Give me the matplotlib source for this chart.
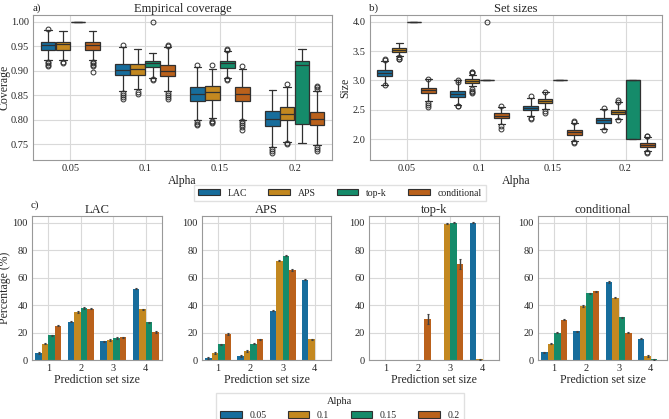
import colorsys
import numpy as np
import matplotlib
matplotlib.use('Agg')
import matplotlib.pyplot as plt
from matplotlib.patches import Patch
import seaborn as sns

alphas = ['0.05', '0.1', '0.15', '0.2']
methods = ['LAC', 'APS', 'top-k', 'conditional']
set_sizes = ['1', '2', '3', '4']

# a) coverage boxes, one row per alpha: (whislo, q1, med, q3, whishi, fliers)
cov_lac = [(0.922, 0.943, 0.953, 0.958, 0.983, [0.985, 0.918, 0.915, 0.912, 0.910]),
           (0.858, 0.890, 0.901, 0.914, 0.948, [0.952, 0.855, 0.850, 0.846, 0.843]),
           (0.799, 0.838, 0.852, 0.867, 0.907, [0.912, 0.796, 0.792, 0.789]),
           (0.744, 0.786, 0.801, 0.818, 0.860, [0.740, 0.736, 0.731])]
cov_aps = [(0.922, 0.943, 0.954, 0.958, 0.981, [0.918, 0.915]),
           (0.862, 0.892, 0.903, 0.914, 0.945, [0.857, 0.853]),
           (0.804, 0.841, 0.857, 0.869, 0.903, [0.911, 0.797, 0.795, 0.793]),
           (0.755, 0.799, 0.811, 0.826, 0.866, [0.873, 0.752, 0.750])]
cov_topk = [(1.0, 1.0, 1.0, 1.0, 1.0, []),
            (0.885, 0.907, 0.915, 0.919, 0.936, [0.883, 0.880, 1.0]),
            (0.885, 0.905, 0.915, 0.919, 0.941, [0.945, 0.942, 0.882, 0.880]),
            (0.753, 0.790, 0.912, 0.920, 0.945, [])]
cov_cond = [(0.922, 0.943, 0.953, 0.958, 0.981, [0.918, 0.915, 0.912, 0.910, 0.898]),
            (0.859, 0.889, 0.900, 0.912, 0.948, [0.952, 0.950, 0.855, 0.851, 0.846, 0.843]),
            (0.800, 0.838, 0.852, 0.866, 0.903, [0.909, 0.797, 0.793, 0.789, 0.785, 0.779]),
            (0.748, 0.788, 0.801, 0.816, 0.858, [0.862, 0.866, 0.869, 0.745, 0.740, 0.736])]

# b) set size boxes
size_lac = [(2.93, 3.077, 3.134, 3.18, 3.33, [3.35, 3.36, 2.92]),
            (2.59, 2.724, 2.77, 2.826, 3.0, [3.0, 2.98, 2.57, 2.56]),
            (2.40, 2.50, 2.54, 2.57, 2.71, [2.73, 2.36, 2.35]),
            (2.17, 2.285, 2.33, 2.37, 2.51, [2.53, 2.16])]
size_aps = [(3.41, 3.48, 3.516, 3.55, 3.635, [3.39, 3.37, 3.36]),
            (2.91, 2.95, 2.99, 3.02, 3.10, [3.12, 3.14, 3.15, 2.85, 2.82, 2.80, 2.78]),
            (2.51, 2.61, 2.655, 2.69, 2.80, [2.80, 2.48, 2.45]),
            (2.34, 2.43, 2.47, 2.50, 2.63, [2.64, 2.66, 2.33])]
size_topk = [(4.0, 4.0, 4.0, 4.0, 4.0, []),
             (3.0, 3.0, 3.0, 3.0, 3.0, [4.0]),
             (3.0, 3.0, 3.0, 3.0, 3.0, []),
             (2.0, 2.0, 3.0, 3.0, 3.0, [])]
size_cond = [(2.655, 2.78, 2.84, 2.87, 3.02, [3.03, 2.62, 2.58, 2.55]),
             (2.256, 2.36, 2.40, 2.44, 2.55, [2.56, 2.22, 2.18]),
             (1.97, 2.075, 2.12, 2.155, 2.285, [2.29, 2.31, 1.95, 1.93]),
             (1.80, 1.875, 1.91, 1.94, 2.04, [2.05, 2.06, 1.78, 1.76])]

# c) percentage of prediction set sizes, rows = alpha, columns = set size 1..4
pct_lac = [[5, 28, 13.5, 52], [12, 35, 14.5, 37], [18, 38, 16, 27.5], [25, 37.5, 16.5, 20.5]]
pct_aps = [[1.5, 3, 36, 58.5], [5, 6.5, 72.5, 15], [11.5, 12, 76, 0], [19, 15, 65.5, 0]]
pct_topk = [[0, 0, 0, 100], [0, 0, 99.5, 0.5], [0, 0, 100, 0], [0, 30, 70, 0]]
pct_cond = [[5.5, 21, 57, 15.5], [12, 39.5, 45.5, 3], [20, 48.5, 31, 0.5], [29.5, 50, 20, 0]]
err_topk = [[0, 0, 0, 0.3], [0, 0, 0.5, 0.5], [0, 0, 0.3, 0], [0, 3.5, 3.5, 0]]

sns.set_style('whitegrid')
plt.rcParams['font.family'] = ['Liberation Serif', 'DejaVu Serif']
plt.rcParams['axes.edgecolor'] = '.6'
plt.rcParams['grid.color'] = '.85'
plt.rcParams['xtick.major.size'] = 1.5
plt.rcParams['ytick.major.size'] = 1.5
plt.rcParams['xtick.major.pad'] = 1.5
plt.rcParams['ytick.major.pad'] = 1.5
plt.rcParams['xtick.color'] = '.15'
plt.rcParams['ytick.color'] = '.15'

pal = sns.color_palette('colorblind', 4, desat=0.75)
lum = min(colorsys.rgb_to_hls(*c)[1] for c in pal) * 0.6
gray = (lum, lum, lum)
offsets = [-0.3, -0.1, 0.1, 0.3]
W, H = 669, 419

fig = plt.figure(figsize=(6.69, 4.19), dpi=100)


def add_ax(l, t, r, b):
    return fig.add_axes([l / W, 1 - b / H, (r - l) / W, (b - t) / H])


def boxes(ax, groups):
    for j, rows in enumerate(groups):
        stats = [dict(whislo=r[0], q1=r[1], med=r[2], q3=r[3], whishi=r[4], fliers=r[5]) for r in rows]
        ax.bxp(stats, positions=np.arange(len(rows)) + offsets[j], widths=0.196,
               patch_artist=True, manage_ticks=False,
               boxprops=dict(facecolor=pal[j], edgecolor=gray, linewidth=0.9),
               medianprops=dict(color=gray, linewidth=0.9),
               whiskerprops=dict(color=gray, linewidth=0.9),
               capprops=dict(color=gray, linewidth=0.9),
               flierprops=dict(marker='o', markerfacecolor='none', markeredgecolor=gray,
                               markersize=3.5, markeredgewidth=0.7))
    ax.set_xlim(-0.5, 3.5)
    ax.set_xticks(range(4))
    ax.set_xticklabels(alphas)
    ax.tick_params(labelsize=7.5)
    ax.set_xlabel('Alpha', fontsize=8.5, labelpad=1)


ax_a = add_ax(33, 15, 332, 160)
boxes(ax_a, [cov_lac, cov_aps, cov_topk, cov_cond])
ax_a.set_ylabel('Coverage', fontsize=8.5)
ax_a.yaxis.set_label_coords(-22 / 299, 0.5)
ax_a.set_title('Empirical coverage', fontsize=9, pad=2)

ax_b = add_ax(370, 15, 662, 160)
boxes(ax_b, [size_lac, size_aps, size_topk, size_cond])
ax_b.set_ylabel('Size', fontsize=8.5, labelpad=1)
ax_b.set_title('Set sizes', fontsize=9, pad=2)

fig.text(33 / W, 1 - 3 / H, 'a)', fontsize=8, va='top')
fig.text(369 / W, 1 - 3 / H, 'b)', fontsize=8, va='top')
fig.text(31 / W, 1 - 200 / H, 'c)', fontsize=8, va='top')

bar_panels = [(pct_lac, None, (32, 162)), (pct_aps, None, (202, 331)),
              (pct_topk, err_topk, (369, 499)), (pct_cond, None, (538, 667))]
for k, (pct, err, (l, r)) in enumerate(bar_panels):
    ax = add_ax(l, 216, r, 360)
    for i in range(4):
        vals = np.array(pct[i], dtype=float)
        e = np.array(err[i]) if err is not None else np.where(vals > 0, 0.5, 0)
        x = np.arange(4) + offsets[i]
        ax.bar(x, vals, width=0.2, color=pal[i], linewidth=0, zorder=2)
        m = vals > 0
        ax.errorbar(x[m], vals[m], yerr=e[m], fmt='none', ecolor='.26',
                    elinewidth=1, capsize=1, capthick=0.8, zorder=3)
    ax.set_xlim(-0.5, 3.5)
    ax.set_ylim(0, 105)
    ax.set_xticks(range(4))
    ax.set_xticklabels(set_sizes)
    ax.set_yticks([0, 20, 40, 60, 80, 100])
    ax.tick_params(labelsize=7.5)
    ax.set_axisbelow(True)
    ax.set_title(methods[k], fontsize=9, pad=2)
    ax.set_xlabel('Prediction set size', fontsize=8.5, labelpad=0.5)
    if k == 0:
        ax.set_ylabel('Percentage (%)', fontsize=8.5, labelpad=1)

handles = [Patch(facecolor=pal[j], edgecolor=gray, linewidth=0.8) for j in range(4)]
fig.legend(handles, methods, loc='center', bbox_to_anchor=(340 / W, 1 - 193 / H),
           ncol=4, fontsize=7, columnspacing=2.2, handlelength=2.2,
           borderpad=0.4, fancybox=False, edgecolor='.85')
fig.legend(handles, alphas, loc='upper center', bbox_to_anchor=(340 / W, 1 - 388 / H),
           ncol=4, fontsize=7, title='Alpha', title_fontsize=7.5, columnspacing=2.2,
           handlelength=2.2, borderpad=0.4, fancybox=False, edgecolor='.85')

fig.savefig('out.png', dpi=100)
